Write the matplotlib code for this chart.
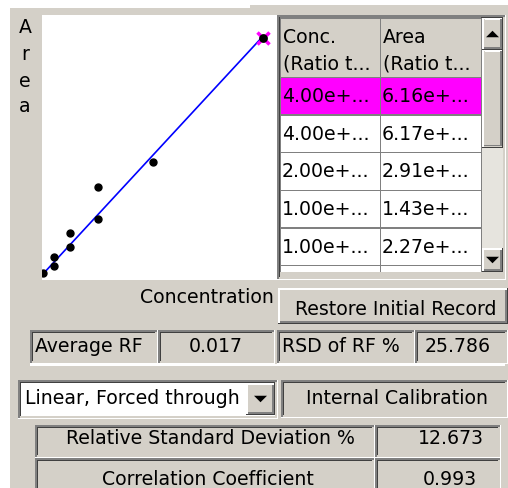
import matplotlib
matplotlib.use("Agg")
import matplotlib.pyplot as plt
import numpy as np
from matplotlib.patches import Rectangle, Polygon

# calibration points (concentration ratio, area ratio)
conc = [0.0, 0.2, 0.2, 0.5, 0.5, 1.0, 1.0, 2.0, 4.0, 4.0]
area = [0.02, 0.21, 0.44, 0.70, 1.07, 1.43, 2.27, 2.91, 6.16, 6.17]

# rows visible in the table (scrolled to the top), first one selected
table_conc = [4.00, 4.00, 2.00, 1.00, 1.00]
table_area = [6.16, 6.17, 2.91, 1.43, 2.27]
selected = 0
table_headers = ["Conc.\n(Ratio t...", "Area\n(Ratio t..."]

fit_mode = "Linear, Forced through"
average_rf = 0.017
rsd_of_rf = 25.786
rsd_pct = 12.673
corr_coef = 0.993

W, H = 508, 488
FACE = "#D4D0C8"
DARK = "#808080"
DARKER = "#404040"
FS = 13.6

fig = plt.figure(figsize=(W / 100, H / 100), dpi=100)
fig.patch.set_facecolor("white")


def rect(x0, y0, x1, y1, color, z=-5):
    """Filled box in pixel coords, y measured from the top."""
    fig.patches.append(Rectangle((x0 / W, 1 - y1 / H), (x1 - x0) / W, (y1 - y0) / H,
                                 transform=fig.transFigure, facecolor=color,
                                 edgecolor="none", zorder=z))


def bevel(x0, y0, x1, y1, tl, br, w=1.5, z=-4):
    rect(x0, y0, x1, y0 + w, tl, z)
    rect(x0, y0, x0 + w, y1, tl, z)
    rect(x0, y1 - w, x1, y1, br, z)
    rect(x1 - w, y0, x1, y1, br, z)


def sunken(x0, y0, x1, y1, fill=FACE):
    rect(x0, y0, x1, y1, fill)
    bevel(x0, y0, x1, y1, DARK, "white")
    bevel(x0 + 1.5, y0 + 1.5, x1 - 1.5, y1 - 1.5, DARKER, FACE)


def raised(x0, y0, x1, y1, fill=FACE):
    rect(x0, y0, x1, y1, fill)
    bevel(x0, y0, x1, y1, "white", DARKER)
    bevel(x0 + 1.5, y0 + 1.5, x1 - 1.5, y1 - 1.5, FACE, DARK)


def label(x, y, s, ha="left", **kw):
    fig.text(x / W, 1 - y / H, s, ha=ha, va="baseline", fontsize=FS,
             color="black", zorder=3, **kw)


def triangle(cx, cy, up=True, size=6.5):
    d = -size if up else size
    pts = [(cx - size, cy - d / 2), (cx + size, cy - d / 2), (cx, cy + d / 2)]
    fig.patches.append(Polygon([(x / W, 1 - y / H) for x, y in pts],
                               transform=fig.transFigure, facecolor="black",
                               edgecolor="none", zorder=-3))


# dialog background
rect(10, 8, W, H, FACE, z=-6)
rect(250, 5, W, 8, FACE, z=-6)

# calibration plot
ax = fig.add_axes([42 / W, 1 - 280 / H, (277 - 42) / W, (280 - 15) / H])
ax.set_zorder(5)
ax.set_facecolor("white")
for s in ax.spines.values():
    s.set_visible(False)
ax.set_xticks([])
ax.set_yticks([])
ax.set_xlim(-0.018, 4.255)
ax.set_ylim(-0.157, 6.76)

x = np.array(conc)
y = np.array(area)
slope = np.sum(x * y) / np.sum(x * x)  # least squares through the origin
xl = np.array([0.0, max(conc)])
ax.plot(xl, slope * xl, color="#0000FF", lw=1.2, zorder=2)
ax.plot(table_conc[selected], table_area[selected], marker="x", color="#FF00FF",
        ms=8, mew=2.5, zorder=3)
ax.plot(x, y, "o", color="black", ms=5, zorder=4)

for ch, yb in zip("Area", [33, 60, 87, 112]):
    label(25, yb, ch, ha="center")
label(274, 303, "Concentration", ha="right")

# data table with vertical scrollbar
sunken(277, 15, 506, 280, fill=FACE)
cols = [280, 380, 481]
rows = [77 + 37.7 * i for i in range(6)]
rect(cols[0], 18, cols[-1], 77, FACE)
rect(cols[0], 77, cols[-1], 272, "white")
rect(cols[0], rows[selected], cols[-1], rows[selected + 1], "#FF00FF")
for xc in cols:
    rect(xc - 0.5, 18, xc + 0.8, 272, DARK, z=-4)
for yr in rows:
    rect(cols[0], yr - 0.5, cols[-1], yr + 0.8, DARK, z=-4)
rect(cols[0], 17, cols[-1], 18.5, DARK, z=-4)
for j, head in enumerate(table_headers):
    top, bottom = head.split("\n")
    label(cols[j] + 3, 43, top)
    label(cols[j] + 3, 70, bottom)
for i, (c, a) in enumerate(zip(table_conc, table_area)):
    label(cols[0] + 2, rows[i] + 25, f"{c:.2f}e+...")
    label(cols[1] + 2, rows[i] + 25, f"{a:.2f}e+...")

rect(482, 18, 503, 272, "#E6E4DE")
raised(482, 18, 503, 50)
triangle(492.5, 34, up=True)
raised(482, 50, 503, 148)
raised(482, 248, 503, 272)
triangle(492.5, 260, up=False)

# buttons and result fields
raised(278, 288, W, 324)
label(396, 315, "Restore Initial Record", ha="center")

sunken(30, 330, 158, 364)
sunken(158, 330, 275, 364)
sunken(277, 330, 415, 364)
sunken(415, 330, W, 364)
rect(30, 364, 505, 366, "white")
label(35, 352, "Average RF")
label(216, 352, f"{average_rf:.3f}", ha="center")
label(282, 352, "RSD of RF %")
label(458, 352, f"{rsd_of_rf:.3f}", ha="center")

sunken(18, 380, 278, 419, fill="white")
raised(246, 383, 275, 415)
triangle(260.5, 399, up=False)
label(25, 404, fit_mode)
sunken(281, 380, W, 418)
label(397, 404, "Internal Calibration", ha="center")

sunken(35, 425, 375, 458)
sunken(375, 425, 501, 458)
sunken(35, 458, 375, 492)
sunken(375, 458, 501, 492)
label(210, 444, "Relative Standard Deviation %", ha="center")
label(451, 444, f"{rsd_pct:.3f}", ha="center")
label(208, 485, "Correlation Coefficient", ha="center")
label(450, 485, f"{corr_coef:.3f}", ha="center")

fig.savefig("out.png", dpi=100, facecolor=fig.get_facecolor())
